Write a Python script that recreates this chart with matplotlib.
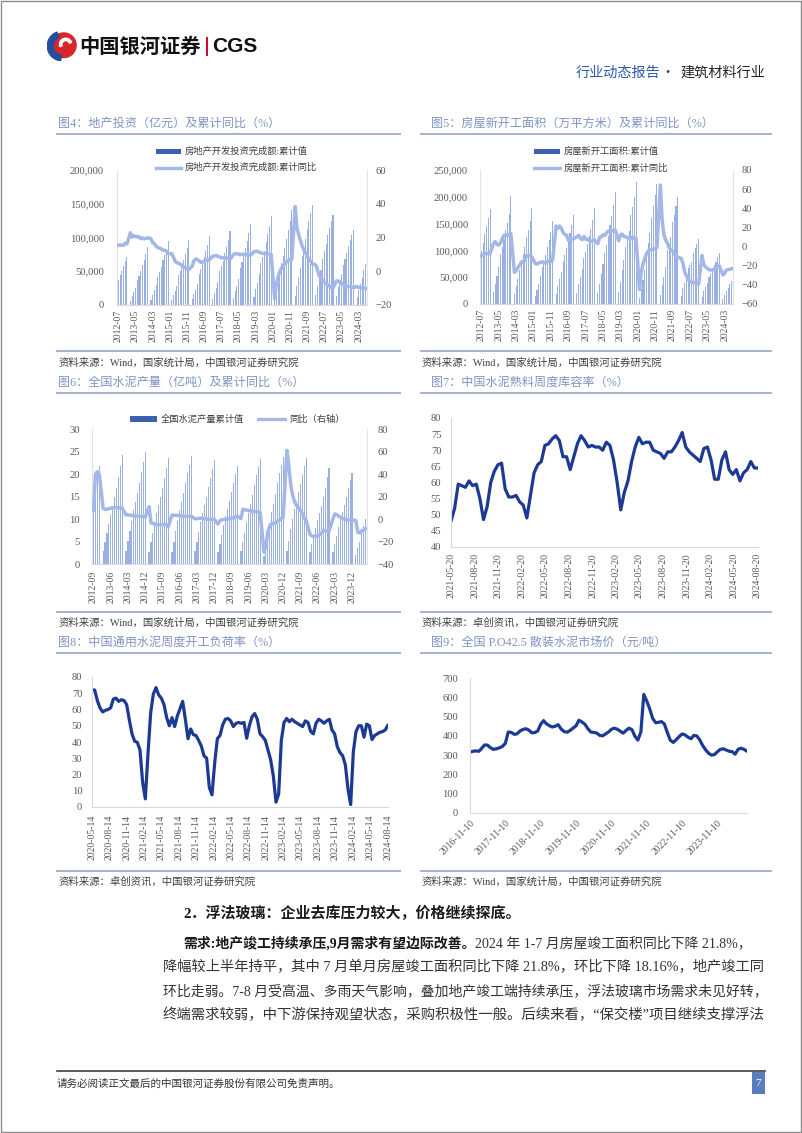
import numpy as np
import pandas as pd
import matplotlib
matplotlib.use("Agg")
import matplotlib.pyplot as plt
from matplotlib.patches import Rectangle, Circle, Wedge
from matplotlib.lines import Line2D

nan = np.nan

# ---- 图4 房地产开发投资完成额 (亿元), monthly from 2012-07, Jan not published
invest_cum = [
    36828, 44009, 51046, 57992, 64860, 71804,
    nan, 6560, 13133, 19052, 25755, 36828, 43205, 50099, 59237, 66784, 75300, 86013,
    nan, 7769, 15339, 21603, 29034, 42019, 49007, 56236, 66120, 74200, 83050, 95036,
    nan, 8094, 15306, 21101, 28683, 43955, 50530, 57621, 67360, 75502, 84100, 95979,
    nan, 8206, 16013, 22196, 30450, 46631, 53213, 60599, 71007, 80068, 88866, 102581,
    nan, 9478, 17960, 24622, 33967, 50610, 57456, 65452, 76482, 86326, 95891, 109799,
    nan, 10457, 21110, 28110, 38290, 55531, 63963, 72770, 84190, 95146, 106114, 120264,
    nan, 12090, 23803, 32934, 46075, 61609, 70665, 80359, 92891, 104992, 117156, 132194,
    nan, 10115, 21963, 33103, 45920, 62780, 73130, 84176, 98149, 111185, 124040, 141443,
    nan, 13986, 27576, 40240, 54318, 72179, 84895, 98060, 112559, 124934, 136471, 147602,
    nan, 14499, 27765, 39154, 52134, 68314, 79462, 90809, 103559, 113945, 123863, 132895,
    nan, 13669, 25974, 35514, 45701, 58550, 67717, 76900, 87269, 95922, 104045, 110913,
    nan, 11842, 22082, 30928, 40632, 52529, 60877,
]
invest_yoy = [
    15.4, 15.6, 15.4, 15.4, 16.7, 16.2,
    nan, 22.8, 20.2, 21.1, 20.6, 20.3, 20.5, 19.3, 19.7, 19.2, 19.5, 19.8,
    nan, 19.3, 16.8, 16.4, 14.7, 14.1, 13.7, 13.2, 12.5, 12.4, 11.9, 10.5,
    nan, 10.4, 8.5, 6.0, 5.1, 4.6, 4.3, 3.5, 2.6, 2.0, 1.3, 1.0,
    nan, 3.0, 6.2, 7.2, 7.0, 6.1, 5.3, 5.4, 5.8, 6.6, 6.5, 6.9,
    nan, 8.9, 9.1, 9.3, 8.8, 8.5, 7.9, 7.9, 8.1, 7.8, 7.5, 7.0,
    nan, 9.9, 10.4, 10.3, 10.2, 9.7, 10.2, 10.1, 9.9, 9.7, 9.7, 9.5,
    nan, 11.6, 11.8, 11.9, 11.2, 10.9, 10.6, 10.5, 10.5, 10.3, 10.2, 9.9,
    nan, -16.3, -7.7, -3.3, -0.3, 1.9, 3.4, 4.6, 5.6, 6.3, 6.8, 7.0,
    nan, 38.3, 25.6, 21.6, 18.3, 15.0, 12.7, 10.9, 8.8, 7.2, 6.0, 4.4,
    nan, 3.7, 0.7, -2.7, -4.0, -5.4, -6.4, -7.4, -8.0, -8.8, -9.8, -10.0,
    nan, -5.7, -5.8, -6.2, -7.2, -7.9, -8.5, -8.8, -9.1, -9.3, -9.4, -9.6,
    nan, -9.0, -9.5, -9.8, -10.1, -10.1, -10.2,
]

# ---- 图5 房屋新开工面积 (万平方米), monthly from 2012-07
start_cum = [
    98882, 113187, 130695, 145366, 160163, 177334,
    nan, 21750, 37449, 51930, 69187, 92730, 106684, 120541, 138342, 151761, 168453, 201208,
    nan, 17787, 33207, 46888, 62754, 80126, 93245, 106498, 124877, 138541, 155230, 179592,
    nan, 14614, 26873, 37851, 52089, 69473, 79536, 91314, 106462, 118908, 134231, 154454,
    nan, 18003, 33360, 46440, 60598, 78745, 91105, 103547, 118692, 131739, 147349, 166928,
    nan, 19853, 38014, 50718, 65221, 85119, 97611, 111088, 126157, 139677, 156601, 178654,
    nan, 20402, 37036, 55101, 74357, 95235, 110642, 127564, 146755, 164707, 183863, 209342,
    nan, 21626, 41439, 63003, 81773, 105509, 120664, 136891, 165707, 180583, 198715, 227154,
    nan, 10370, 28203, 45037, 64064, 97536, 113443, 132334, 160560, 183103, 204268, 224433,
    nan, 17038, 36163, 50762, 68530, 101288, 112491, 124641, 152944, 166722, 182817, 198895,
    nan, 15000, 29838, 39739, 51628, 66423, 71922, 78345, 94767, 103722, 111632, 120587,
    nan, 13567, 24121, 31252, 39864, 49880, 55160, 60800, 72123, 79177, 87456, 95376,
    nan, 9429, 17402, 23510, 30090, 38023, 43731,
]
start_yoy = [
    -9.8, -8.0, -7.5, -7.4, -7.2, -7.3,
    nan, 3.6, 5.2, 2.0, 1.6, 3.8, 8.5, 11.6, 12.1, 11.4, 12.7, 13.5,
    nan, -27.0, -25.2, -22.1, -19.4, -16.4, -15.2, -14.4, -9.3, -9.4, -9.0, -10.7,
    nan, -17.7, -18.4, -17.1, -16.6, -15.8, -16.8, -17.3, -15.6, -15.0, -15.8, -14.0,
    nan, 21.4, 19.2, 21.4, 18.9, 14.9, 12.6, 12.0, 6.6, 8.3, 7.6, 8.1,
    nan, 10.4, 11.6, 8.6, 7.2, 10.6, 7.6, 8.0, 6.0, 5.6, 6.2, 7.0,
    nan, 2.9, 9.7, 10.1, 12.2, 11.8, 14.4, 15.9, 16.4, 16.3, 16.8, 17.2,
    nan, 6.0, 11.9, 13.1, 10.5, 10.1, 9.5, 8.9, 8.6, 10.0, 8.6, 8.5,
    nan, -44.9, -27.2, -18.4, -12.8, -7.6, -4.5, -3.6, -3.4, -2.6, -2.0, -1.2,
    nan, 64.3, 28.2, 12.8, 6.9, 3.8, -0.9, -3.2, -4.5, -7.7, -9.1, -11.4,
    nan, -12.2, -17.5, -26.3, -30.6, -34.4, -36.1, -37.2, -38.0, -37.8, -38.9, -39.4,
    nan, -9.4, -19.2, -21.2, -22.6, -24.3, -24.5, -24.4, -23.4, -23.2, -21.2, -20.4,
    nan, -29.7, -27.8, -24.6, -24.2, -23.7, -23.2,
]

# ---- 图6 全国水泥产量 (亿吨), monthly from 2012-09
cement_cum = [
    16.0, 18.2, 20.2, 21.8,
    nan, 2.8, 4.8, 6.8, 8.8, 11.0, 12.8, 14.8, 17.0, 19.4, 21.8, 24.2,
    nan, 2.9, 5.1, 7.4, 9.6, 11.9, 13.8, 15.8, 18.1, 20.4, 22.6, 24.8,
    nan, 2.7, 4.8, 7.0, 9.1, 11.3, 13.1, 14.9, 17.0, 19.2, 21.3, 23.5,
    nan, 2.7, 5.0, 7.3, 9.6, 11.9, 13.8, 15.8, 18.0, 20.2, 22.1, 24.0,
    nan, 2.8, 4.9, 7.1, 9.3, 11.4, 13.2, 15.0, 17.1, 19.2, 21.2, 23.2,
    nan, 2.6, 4.5, 6.4, 8.6, 10.6, 12.2, 14.0, 16.0, 17.9, 19.9, 21.8,
    nan, 2.8, 4.8, 7.0, 9.3, 11.4, 13.3, 15.3, 17.6, 19.7, 21.5, 23.3,
    nan, 1.8, 3.9, 6.7, 9.2, 11.5, 13.4, 15.6, 17.9, 20.2, 22.1, 23.8,
    nan, 2.9, 5.2, 7.8, 10.1, 12.3, 14.1, 16.0, 17.8, 19.7, 21.7, 23.6,
    nan, 2.6, 4.4, 6.0, 8.0, 9.8, 11.4, 12.9, 14.9, 17.0, 19.3, 21.3,
    nan, 2.7, 4.5, 6.3, 8.3, 10.0, 11.5, 13.1, 15.0, 16.8, 18.7, 20.2,
    nan, 2.0, 3.5, 5.0, 6.8, 8.5, 9.9,
]
cement_yoy = [
    8.0, 40.0, 42.0, 40.0,
    nan, 9.5, 8.5, 8.8, 9.0, 9.7, 9.9, 10.2, 10.1, 10.0, 9.9, 9.6,
    nan, 3.6, 3.7, 3.5, 3.2, 2.8, 2.9, 2.6, 2.4, 2.2, 2.0, 1.8,
    nan, 11.0, -3.4, -3.9, -4.4, -5.3, -5.4, -5.0, -4.9, -4.9, -5.0, -7.0,
    nan, 3.5, 3.3, 3.3, 3.2, 3.0, 2.7, 2.7, 2.5, 2.3, 2.3, 2.5,
    nan, 0.2, 0.3, 0.6, 0.8, 0.5, 0.4, 0.2, -0.5, -0.4, -0.2, -0.2,
    nan, -4.5, -1.5, -0.6, -0.5, -0.2, 0.2, 0.5, 0.7, 1.0, 1.8, 2.5,
    nan, 0.5, 8.8, 8.0, 8.0, 7.5, 7.2, 6.8, 6.7, 6.5, 6.3, 6.1,
    nan, -29.5, -23.7, -11.5, -6.5, -4.5, -3.7, -3.5, -2.0, -1.0, 0.6, 1.6,
    nan, 61.0, 47.0, 30.0, 21.0, 15.0, 12.0, 10.0, 8.0, 5.0, 1.0, -1.2,
    nan, -13.5, -15.0, -15.5, -15.5, -15.0, -14.0, -12.5, -10.0, -10.5, -11.0, -10.8,
    nan, 0.0, 4.5, 3.8, 2.5, 1.5, 0.6, 0.0, -0.5, -1.0, -0.8, -0.7,
    nan, -1.5, -11.8, -12.5, -10.5, -10.0, -8.5,
]

# ---- 图7 熟料库容率 (%), every two weeks from 2021-05-20
clinker = [
    48, 52, 59.5, 59, 58.5, 60.5, 59, 59.5, 55, 48.5,
    52.5, 60, 63.5, 65.5, 66, 58, 55.5, 55.5, 56, 54,
    53, 49, 56, 63, 65.5, 66.5, 71.5, 72, 73.5, 74.5,
    73, 68, 68, 64, 68, 72, 74.5, 73, 71, 71.5,
    71, 71, 70, 72.5, 71.5, 67, 60, 51.5, 57, 60.5,
    66.5, 71, 74, 72, 72.5, 72.5, 70, 69.5, 69, 67.5,
    69.5, 69.5, 71, 73, 75.5, 71, 69.5, 68.5, 67.5, 66.5,
    70.5, 71, 67, 61, 61, 67, 69.5, 64, 62.5, 64,
    60.5, 63, 64, 66.5, 64.5, 64.5,
]

# ---- 图8 水泥开工负荷率 (%), every two weeks from 2020-05-14
load_rate = [
    72, 72, 65.5, 61, 58.5, 59.5, 60, 61, 66.4, 67,
    65, 66, 65.5, 63, 53.6, 45, 40.5, 39.8, 35, 15,
    5, 33, 58, 69.5, 73.5, 69, 67, 63, 55, 50,
    55, 49.5, 56, 60.5, 65, 54, 42, 48, 44.5, 44,
    41, 37.5, 31.5, 30, 12, 7.5, 27, 42, 44, 50.5,
    54, 54.5, 53, 49.5, 51.5, 52, 51.5, 52, 42.3, 50,
    55.5, 57.5, 54, 45, 43.3, 41, 35, 29, 19, 3,
    8, 41, 52, 54.5, 52.5, 54, 52.5, 51.5, 50.5, 49.5,
    53, 52, 46.5, 45, 51.5, 54, 53, 51.5, 53, 54,
    47.4, 45, 37, 33.5, 31.5, 26, 11, 1.5, 34, 46.4,
    50, 50, 43, 51, 50, 41.5, 44, 45, 46, 46.4,
    47.5, 50.5,
]

# ---- 图9 P.O42.5 散装水泥价格 (元/吨), monthly from 2016-11-10
price = [
    316, 320, 322, 320, 335, 353, 352, 338, 330, 333,
    338, 345, 361, 420, 418, 408, 410, 425, 433, 437,
    430, 416, 417, 425, 460, 479, 462, 452, 446, 450,
    458, 435, 422, 419, 428, 440, 452, 481, 472, 460,
    438, 420, 418, 415, 403, 400, 410, 420, 434, 440,
    434, 424, 414, 428, 440, 432, 398, 378, 420, 615,
    580, 540, 490, 468, 470, 474, 462, 418, 378, 366,
    380, 396, 410, 405, 393, 385, 402, 400, 380, 350,
    328, 310, 300, 303, 318, 330, 333, 326, 320, 318,
    305, 330, 336, 330, 320,
]

W, H = 802, 1133
BAR = "#9ab0e2"
BAR_LEG = "#3e60b0"
LINE = "#a3b8e6"
NAVY = "#1c3a94"
TITLE_C = "#7f93c4"
RULE_C = "#a6b1cc"
TICK_C = "#595959"
SERIF_CJK = ["Liberation Serif", "Noto Sans CJK SC"]

plt.rcParams["font.family"] = SERIF_CJK
fig = plt.figure(figsize=(W / 100, H / 100), dpi=100)


def box(l, t, r, b):
    return fig.add_axes([l / W, 1 - b / H, (r - l) / W, (b - t) / H])


def txt(x, y, s, **kw):
    kw.setdefault("va", "center")
    return fig.text(x / W, 1 - y / H, s, **kw)


def hline(x0, x1, y, **kw):
    fig.add_artist(Line2D([x0 / W, x1 / W], [1 - y / H, 1 - y / H],
                          transform=fig.transFigure, **kw))


def frame(ax, right=False):
    for s in ax.spines.values():
        s.set_visible(False)
    ax.spines["bottom"].set_visible(True)
    ax.spines["bottom"].set_color("#d9d9d9")
    ax.spines["left"].set_visible(True)
    ax.spines["left"].set_color("#e3e3e3")
    if right:
        ax.spines["right"].set_visible(True)
        ax.spines["right"].set_color("#e3e3e3")


def combo(rect, cum, yoy, start, step, ylim, ystep, y2lim, y2step,
          comma=True, lpad=9, rpad=6, xpad=3.6):
    ax = box(*rect)
    n = len(cum)
    x = np.arange(n)
    ax.bar(x, np.array(cum, float), width=0.62, color=BAR, linewidth=0)
    ax.set_xlim(-0.8, n - 0.2)
    ax.set_ylim(*ylim)
    yt = np.arange(ylim[0], ylim[1] + 1e-9, ystep)
    ax.set_yticks(yt)
    ax.set_yticklabels([f"{int(v):,}" if comma else f"{int(v)}" for v in yt])
    months = pd.period_range(start, periods=n, freq="M").strftime("%Y-%m")
    ax.set_xticks(x[::step])
    ax.set_xticklabels(months[::step], rotation=90, va="top", ha="center")
    ax2 = ax.twinx()
    yy = np.array(yoy, float)
    m = ~np.isnan(yy)
    ax2.plot(x[m], yy[m], color=LINE, lw=2.5, solid_joinstyle="round")
    ax2.set_ylim(*y2lim)
    ax2.set_yticks(np.arange(y2lim[0], y2lim[1] + 1e-9, y2step))
    frame(ax, right=True)
    for s in ax2.spines.values():
        s.set_visible(False)
    ax.tick_params(axis="y", length=0, labelsize=7.6, labelcolor=TICK_C, pad=lpad)
    ax.tick_params(axis="x", length=0, labelsize=7, labelcolor=TICK_C, pad=xpad)
    ax2.tick_params(length=0, labelsize=7.6, labelcolor=TICK_C, pad=rpad)
    return ax


def line_chart(rect, dates, vals, ylim, ystep, ticks, labels, rot=90, xpad=4.3, lpad=7):
    ax = box(*rect)
    ax.plot(dates, vals, color=NAVY, lw=2.3, solid_joinstyle="round",
            solid_capstyle="round")
    ax.set_xlim(dates[0], dates[-1])
    ax.set_ylim(*ylim)
    ax.set_yticks(np.arange(ylim[0], ylim[1] + 1e-9, ystep))
    ax.set_xticks(ticks)
    if rot == 90:
        ax.set_xticklabels(labels, rotation=90, va="top", ha="center")
    else:
        ax.set_xticklabels(labels, rotation=45, ha="right", va="top",
                           rotation_mode="anchor")
    frame(ax)
    ax.spines["left"].set_color("#d9d9d9")
    ax.tick_params(axis="y", length=0, labelsize=7.6, labelcolor=TICK_C, pad=lpad)
    ax.tick_params(axis="x", length=0, labelsize=7, labelcolor=TICK_C, pad=xpad)
    return ax


def title(x, y, s, x0, x1, yl):
    txt(x, y, s, color=TITLE_C, fontsize=8.7)
    hline(x0, x1, yl, color=RULE_C, lw=1.4)


def source(x, y, s, x0, x1, yl):
    hline(x0, x1, yl, color=RULE_C, lw=1.4)
    txt(x, y, s, color="#404040", fontsize=7.5)


def leg_patch(x0, x1, y, label, h=5):
    fig.add_artist(Rectangle((x0 / W, 1 - (y + h / 2) / H), (x1 - x0) / W, h / H,
                             transform=fig.transFigure, color=BAR_LEG, lw=0))
    txt(x1 + 4, y, label, color="#404040", fontsize=6.7)


def leg_line(x0, x1, y, label):
    hline(x0, x1, y, color=LINE, lw=2.4)
    txt(x1 + 4, y, label, color="#404040", fontsize=6.7)


# ---------------- page frame, header, footer
fig.add_artist(Rectangle((0.6 / W, 0.6 / H), (W - 1.6) / W, (H - 1.6) / H,
                         transform=fig.transFigure, fill=False,
                         edgecolor="#8c8c8c", lw=1.0))
lax = box(47, 31, 77, 61)
lax.set_xlim(-1, 1)
lax.set_ylim(-1, 1)
lax.set_aspect("equal")
lax.axis("off")
lax.add_patch(Circle((0.12, 0.05), 0.82, color="#d9262e"))
lax.add_patch(Wedge((0.0, 0.0), 0.98, 110, 265, width=0.38, color="#1f4f9e"))
lax.add_patch(Wedge((0.25, 0.1), 0.42, 20, 200, width=0.16, color="white"))
txt(79, 46, "中国银河证券", family=["Noto Sans CJK SC"], weight="bold",
    fontsize=14.6, color="#111111")
fig.add_artist(Rectangle((206.5 / W, 1 - 56 / H), 2 / W, 19 / H,
                         transform=fig.transFigure, color="#c8102e", lw=0))
txt(212, 46, "CGS", family=["Liberation Sans"], weight="bold", fontsize=15,
    color="#111111")
txt(660, 73, "行业动态报告", family=["Noto Sans CJK SC"], fontsize=10.2,
    color="#2e5aa8", ha="right")
txt(668, 73, "·", family=["Noto Sans CJK SC"], fontsize=10.2, color="#444444",
    ha="center")
txt(765, 73, "建筑材料行业", family=["Noto Sans CJK SC"], fontsize=10.2,
    color="#222222", ha="right")

hline(57, 765, 1071, color="#404040", lw=1.2)
txt(57, 1084, "请务必阅读正文最后的中国银河证券股份有限公司免责声明。",
    fontsize=7.6, color="#333333")
fig.add_artist(Rectangle((752 / W, 1 - 1094 / H), 13 / W, 22 / H,
                         transform=fig.transFigure, color="#5b7cbf", lw=0))
txt(758.5, 1083, "7", fontsize=8, color="white", ha="center")

# ---------------- 图4
title(58, 124, "图4：地产投资（亿元）及累计同比（%）", 57, 400, 134)
combo((117, 170, 367, 305), invest_cum, invest_yoy, "2012-07", 10,
      (0, 200000), 50000, (-20, 60), 20, lpad=9.4, rpad=6)
leg_patch(156, 181, 151.5, "房地产开发投资完成额:累计值")
leg_line(156, 181, 167.5, "房地产开发投资完成额:累计同比")
source(59, 363, "资料来源：Wind，国家统计局，中国银河证券研究院", 57, 400, 351)

# ---------------- 图5
title(431, 124, "图5：房屋新开工面积（万平方米）及累计同比（%）", 421, 771, 134)
combo((480, 170, 733, 304), start_cum, start_yoy, "2012-07", 10,
      (0, 250000), 50000, (-60, 80), 20, lpad=8.6, rpad=6)
leg_patch(534, 560, 151.5, "房屋新开工面积:累计值")
leg_line(534, 560, 168, "房屋新开工面积:累计同比")
source(422, 363, "资料来源：Wind，国家统计局，中国银河证券研究院", 421, 771, 351)

# ---------------- 图6
title(58, 383, "图6：全国水泥产量（亿吨）及累计同比（%）", 57, 400, 393)
combo((92, 429, 367, 564), cement_cum, cement_yoy, "2012-09", 9,
      (0, 30), 5, (-40, 80), 20, comma=False, lpad=8.6, rpad=7.5, xpad=5)
leg_patch(130, 157, 419, "全国水泥产量累计值", h=5.5)
leg_line(258, 285, 419, "同比（右轴）")
source(59, 623, "资料来源：Wind，国家统计局，中国银河证券研究院", 57, 400, 612)

# ---------------- 图7
title(431, 383, "图7：中国水泥熟料周度库容率（%）", 421, 771, 393)
d7 = pd.date_range("2021-05-20", periods=len(clinker), freq="14D").to_pydatetime()
t7 = pd.date_range("2021-05-20", "2024-08-20", freq=pd.DateOffset(months=3))
line_chart((451, 418, 758, 547), d7, clinker, (40, 80), 5,
           t7.to_pydatetime(), t7.strftime("%Y-%m-%d"), xpad=4.3, lpad=7)
source(422, 623, "资料来源：卓创资讯，中国银河证券研究院", 421, 771, 612)

# ---------------- 图8
title(58, 643, "图8：中国通用水泥周度开工负荷率（%）", 57, 400, 653)
d8 = pd.date_range("2020-05-14", periods=len(load_rate), freq="14D").to_pydatetime()
t8 = pd.date_range("2020-05-14", "2024-08-14", freq=pd.DateOffset(months=3))
line_chart((92, 677, 388, 807), d8, load_rate, (0, 80), 10,
           t8.to_pydatetime(), t8.strftime("%Y-%m-%d"), xpad=5.5, lpad=7)
source(59, 882, "资料来源：卓创资讯，中国银河证券研究院", 57, 400, 871)

# ---------------- 图9
title(431, 643, "图9：全国 P.O42.5 散装水泥市场价（元/吨）", 421, 771, 653)
d9 = pd.date_range("2016-11-10", periods=len(price),
                   freq=pd.DateOffset(months=1)).to_pydatetime()
t9 = pd.date_range("2016-11-10", "2023-11-10", freq=pd.DateOffset(years=1))
line_chart((470, 678, 747, 813), d9, price, (0, 700), 100,
           t9.to_pydatetime(), t9.strftime("%Y-%m-%d"), rot=45, xpad=4, lpad=8.5)
source(422, 882, "资料来源：Wind，国家统计局，中国银河证券研究院", 421, 771, 871)

# ---------------- body text
BODY = 10.0
RIGHT = 765
txt(183, 913, "2．浮法玻璃：企业去库压力较大，价格继续探底。", fontsize=10.8,
    weight="bold", color="#1a1a1a")
r = fig.canvas.get_renderer()
bold_part = txt(183, 943, "需求:地产竣工持续承压,9月需求有望边际改善。", fontsize=BODY,
                weight="bold", color="#1a1a1a")
x_end = bold_part.get_window_extent(renderer=r).x1
txt(x_end, 943, "2024 年 1-7 月房屋竣工面积同比下降 21.8%，", fontsize=BODY,
    color="#333333")
body_lines = [
    "降幅较上半年持平，其中 7 月单月房屋竣工面积同比下降 21.8%，环比下降 18.16%，地产竣工同",
    "环比走弱。7-8 月受高温、多雨天气影响，叠加地产竣工端持续承压，浮法玻璃市场需求未见好转，",
    "终端需求较弱，中下游保持观望状态，采购积极性一般。后续来看，“保交楼”项目继续支撑浮法",
]
for i, s in enumerate(body_lines):
    t = txt(163, 967 + 24 * i, s, fontsize=BODY, color="#333333")
    w = t.get_window_extent(renderer=r).width
    # stretch the line to the right margin, like the justified original
    t.set_fontsize(min(BODY * (RIGHT - 163) / w, BODY * 1.04))

fig.savefig("out.png", dpi=100)
